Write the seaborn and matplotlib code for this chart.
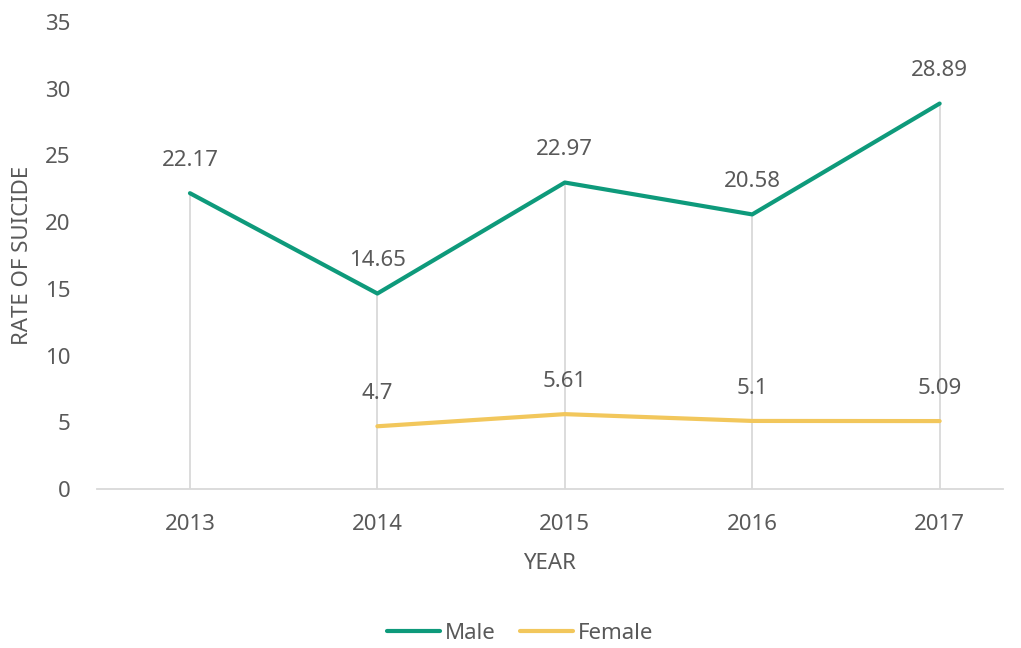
import pandas as pd
import numpy as np
import matplotlib.pyplot as plt
import seaborn as sns

# data
years = ['2013', '2014', '2015', '2016', '2017']
male = [22.17, 14.65, 22.97, 20.58, 28.89]
female = [np.nan, 4.7, 5.61, 5.1, 5.09]

df = pd.DataFrame({
    'YEAR': years * 2,
    'rate': male + female,
    'sex': ['Male'] * 5 + ['Female'] * 5,
})
df['x'] = list(range(5)) * 2

sns.set_theme(style='white')
plt.rcParams['font.family'] = ['Noto Sans', 'DejaVu Sans']
txt = '#595959'
fs = 16
palette = {'Male': '#0E9A7B', 'Female': '#F2C75C'}

fig = plt.figure(figsize=(10.21, 6.48), dpi=100)
ax = fig.add_axes([0.095, 0.2454, 0.887, 0.7206])

# drop lines from the top point down to the axis
tops = np.nanmax(np.array([male, female]), axis=0)
ax.vlines(range(5), 0, tops, color='#D9D9D9', lw=1.3, zorder=1)

sns.lineplot(data=df, x='x', y='rate', hue='sex', palette=palette,
             linewidth=3, ax=ax, zorder=3)

# value labels
for i in range(5):
    ax.annotate(f'{male[i]:g}', (i, male[i]), xytext=(0, 16), textcoords='offset points',
                ha='center', va='bottom', fontsize=fs, color=txt)
    if not np.isnan(female[i]):
        ax.annotate(f'{female[i]:g}', (i, female[i]), xytext=(0, 16), textcoords='offset points',
                    ha='center', va='bottom', fontsize=fs, color=txt)

ax.set_xlim(-0.496, 4.336)
ax.set_ylim(0, 35)
ax.set_yticks(range(0, 36, 5))
ax.set_xticks(range(5))
ax.set_xticklabels(years)
ax.tick_params(axis='both', labelsize=fs, colors=txt, length=0)
ax.tick_params(axis='x', pad=18)
ax.tick_params(axis='y', pad=19)
ax.set_xlabel('YEAR', fontsize=fs, color=txt, labelpad=13)
ax.set_ylabel('RATE OF SUICIDE', fontsize=fs, color=txt, labelpad=9)

for s in ['top', 'right', 'left']:
    ax.spines[s].set_visible(False)
ax.spines['bottom'].set_color('#D9D9D9')
ax.spines['bottom'].set_linewidth(1.3)

leg = ax.legend(loc='center', bbox_to_anchor=(0.467, -0.31), ncol=2, frameon=False,
                fontsize=fs, handlelength=2.4, handletextpad=0.2, columnspacing=1.1)
for t in leg.get_texts():
    t.set_color(txt)

fig.savefig('out.png', dpi=100)
